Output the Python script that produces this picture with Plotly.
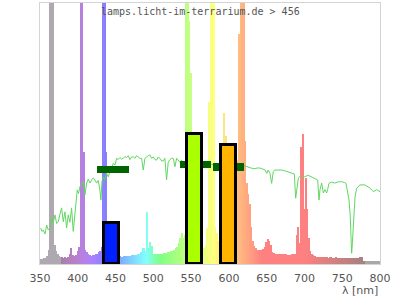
import plotly.graph_objects as go

# ---------------- data ----------------
wavelengths = list(range(350, 801, 2))  # nm, 2 nm bins
spectrum = [
    1.8, 2.0, 1.8, 2.2, 2.4, 3.0, 5.4, 300, 300, 300,          # 350-368
    7.3, 5.0, 4.0, 3.2, 2.8, 2.5, 2.4, 2.6, 2.3, 2.8,          # 370-388
    4.0, 6.0, 3.5, 3.0, 3.5, 5.0, 6.6, 300, 300, 43,           # 390-408
    5.5, 4.6, 4.0, 3.5, 3.2, 3.3, 3.5, 3.8, 4.0, 4.5,          # 410-428
    5.0, 6.6, 300, 300, 43, 10, 6.0, 4.5, 4.0, 3.5,            # 430-448
    3.4, 3.2, 3.1, 3.0, 2.8, 2.8, 2.9, 3.0, 3.0, 3.1,          # 450-468
    3.2, 3.3, 3.4, 3.5, 3.6, 3.8, 4.0, 4.5, 6.0, 6.2,          # 470-488
    5.0, 20, 6.0, 8.5, 7.0, 3.8, 3.8, 3.8, 3.8, 3.9,           # 490-508
    4.0, 4.0, 4.1, 4.2, 4.3, 4.5, 4.6, 4.8, 5.0, 5.5,          # 510-528
    6.0, 6.5, 8.0, 10, 11.8, 9.8, 11, 300, 300, 93,            # 530-548
    73, 20, 12, 10, 9, 8, 7, 6.5, 6.0, 6.0,                    # 550-568
    7.0, 13.7, 62, 300, 300, 300, 14, 12, 9, 8.5,              # 570-588
    8, 20, 58, 49, 12, 10, 10, 10, 10, 12,                     # 590-608
    20, 40, 88, 300, 300, 300, 47, 31, 27, 23,                 # 610-628
    14, 9, 7, 6, 5.4, 5.4, 5.2, 5.3, 5.6, 6.5,                 # 630-648
    8.5, 9.5, 9.0, 7.3, 4.7, 4.2, 4.0, 3.9, 3.8, 3.8,          # 650-668
    3.8, 3.7, 3.8, 3.7, 3.6, 3.6, 3.6, 3.7, 3.8, 4.0,          # 670-688
    11, 14.3, 8, 45, 50, 21, 33, 21, 10, 5,                    # 690-708
    4, 3.5, 3.0, 2.8, 2.7, 2.6, 2.6, 2.5, 2.5, 2.5,            # 710-728
    2.5, 2.4, 2.5, 2.5, 2.4, 2.4, 2.5, 2.4, 2.4, 2.4,          # 730-748
    2.4, 2.4, 2.3, 2.3, 2.4, 2.3, 2.3, 2.3, 2.3, 2.3,          # 750-768
    2.3, 2.3, 2.8, 2.8, 1.2, 1.1, 1.1, 1.1, 1.1, 1.1,          # 770-788
    1.1, 1.1, 1.1, 1.1, 1.1, 1.1,                              # 790-800
]

sun_nm = [350.9, 352.5, 354.4, 356.6, 358.8, 361, 363.2, 365.4, 367.6, 369.8,
          372, 374.2, 376.4, 378.6, 380.8, 383, 385.2, 387.4, 389.6, 391.8,
          394, 396.3, 399.3, 401, 402.9, 405.1, 407.3, 409.5, 411.7, 413.9,
          416, 418.3, 420.5, 422.7, 424.9, 427.1, 429.3, 430.6, 432, 433.7,
          435.9, 438.1, 440.4, 442.5, 444.8, 447, 449.2, 451.4, 453.5, 455.8,
          458, 460.2, 462.4, 464.6, 466.8, 469, 471.2, 473.4, 475.6, 477.8,
          480, 482.2, 484.5, 486.7, 488.9, 491.1, 493.3, 495.5, 497.7, 499.9,
          502.1, 504.3, 506.5, 508.7, 510.9, 513.1, 515.3, 517.5, 519.7, 522,
          524.2, 526.4, 528.6, 530.8, 533, 535.2, 537.4, 539.6, 545, 555,
          565, 568, 571, 574, 577, 580, 585, 590, 600, 610,
          614, 618, 622, 626, 630, 634, 638, 642, 645, 648,
          650, 652, 654.4, 656.6, 658.8, 661, 665, 670, 674, 679,
          683, 686.6, 688.4, 690.6, 692, 695, 700, 705, 710, 715,
          717.5, 719.3, 720.6, 722.8, 725, 727.2, 729.4, 730.7, 732.5, 736,
          740, 745, 750, 753, 755, 759, 760.7, 761.6, 762.5, 763.4,
          764.3, 765.2, 767, 769.2, 773.5, 780, 786.8, 791.2, 795.6, 800]
sun_val = [13.8, 12.5, 13.0, 11.5, 14.9, 13.0, 13.8, 17.6, 16.0, 18.8,
           15.5, 16.2, 19.0, 21.5, 16.2, 20.0, 13.8, 18.8, 16.0, 21.5,
           12.5, 19.5, 28.4, 27.0, 29.6, 30.5, 31.5, 26.5, 31.0, 32.5,
           31.0, 32.2, 33.0, 32.2, 31.0, 32.0, 28.4, 24.5, 31.5, 33.4,
           32.2, 34.8, 33.4, 35.5, 36.7, 38.6, 38.0, 40.5, 40.0, 40.8,
           40.2, 40.5, 41.2, 40.8, 41.5, 40.0, 41.0, 41.1, 40.5, 41.5,
           41.0, 40.5, 40.5, 36.0, 40.5, 41.1, 41.5, 41.8, 40.5, 41.0,
           40.0, 39.8, 41.0, 40.5, 39.5, 39.5, 40.5, 32.2, 39.0, 40.0,
           40.5, 40.5, 37.3, 40.5, 39.5, 39.0, 39.8, 38.5, 39.0, 39.0,
           38.5, 38.0, 38.6, 37.5, 38.2, 38.0, 38.5, 38.0, 37.5, 36.8,
           37.0, 37.9, 37.5, 37.0, 36.7, 36.5, 36.8, 36.7, 36.5, 36.0,
           34.7, 36.0, 34.7, 30.9, 35.5, 36.0, 36.0, 36.0, 35.7, 35.2,
           34.7, 34.5, 25.2, 31.5, 33.0, 33.8, 33.4, 34.0, 33.4, 32.8,
           32.2, 24.5, 28.5, 31.0, 27.2, 28.5, 27.2, 28.5, 30.9, 31.4,
           31.0, 31.5, 31.5, 31.2, 30.9, 24.5, 18.1, 10.5, 4.1, 7.9,
           13.0, 18.1, 25.8, 29.1, 30.3, 30.3, 29.1, 27.7, 28.5, 27.7]

band_lo = [435, 545, 590]
band_hi = [455, 565, 610]
band_val = [15.9, 49.9, 45.7]
band_colors = ["#0020ff", "#aaff00", "#ffb400"]

ref_lo = [425, 535, 579]
ref_hi = [468, 576, 620]
ref_val = [36.1, 38.2, 37.2]
ref_thickness = 2.8

x_ticks = [350, 400, 450, 500, 550, 600, 650, 700, 750, 800]
title_text = "lamps.licht-im-terrarium.de > 456"
x_label = "λ [nm]"


# ---------------- styling helpers ----------------
def wl_color(w):
    if w < 380:
        return "rgb(174,168,176)"
    if w > 780:
        return "rgb(168,168,168)"
    if w < 440:
        r, g, b = -(w - 440) / 60, 0.0, 1.0
    elif w < 490:
        r, g, b = 0.0, (w - 440) / 50, 1.0
    elif w < 510:
        r, g, b = 0.0, 1.0, -(w - 510) / 20
    elif w < 580:
        r, g, b = (w - 510) / 70, 1.0, 0.0
    elif w < 645:
        r, g, b = 1.0, -(w - 645) / 65, 0.0
    else:
        r, g, b = 1.0, 0.0, 0.0
    if w < 420:
        f = 0.3 + 0.7 * (w - 380) / 40
    elif w > 700:
        f = 0.3 + 0.7 * (780 - w) / 80
    else:
        f = 1.0
    c = [int(round(127.5 + 127.5 * v * f)) for v in (r, g, b)]
    return "rgb(%d,%d,%d)" % tuple(c)


fig = go.Figure()

fig.add_trace(go.Bar(
    x=wavelengths, y=spectrum, width=2,
    marker=dict(color=[wl_color(w) for w in wavelengths], line=dict(width=0)),
    hoverinfo="skip", showlegend=False,
))

fig.add_trace(go.Scatter(
    x=sun_nm, y=sun_val, mode="lines",
    line=dict(color="#5fd85f", width=1),
    hoverinfo="skip", showlegend=False,
))

# reference markers (behind the band bars) on overlay axes
fig.add_trace(go.Bar(
    x=[(a + b) / 2 for a, b in zip(ref_lo, ref_hi)],
    width=[b - a for a, b in zip(ref_lo, ref_hi)],
    y=[ref_thickness] * len(ref_val),
    base=[v - ref_thickness / 2 for v in ref_val],
    marker=dict(color="#006400", line=dict(width=0)),
    xaxis="x2", yaxis="y2", hoverinfo="skip", showlegend=False,
))

fig.add_trace(go.Bar(
    x=[(a + b) / 2 for a, b in zip(band_lo, band_hi)],
    width=[b - a for a, b in zip(band_lo, band_hi)],
    y=band_val,
    marker=dict(color=band_colors, line=dict(color="black", width=3)),
    xaxis="x2", yaxis="y2", hoverinfo="skip", showlegend=False,
))

axis_line = "#d4d4d4"
fig.update_layout(
    width=400, height=300,
    margin=dict(l=40, r=20, t=3, b=36),
    paper_bgcolor="white", plot_bgcolor="white",
    barmode="overlay", bargap=0,
    xaxis=dict(range=[350, 800], tickvals=x_ticks, showgrid=False, zeroline=False,
               showline=True, mirror=True, linecolor=axis_line, linewidth=1,
               ticks="outside", ticklen=4, tickcolor="rgba(0,0,0,0)",
               tickfont=dict(family="DejaVu Sans", size=11, color="#555555")),
    yaxis=dict(range=[0, 100], showgrid=False, zeroline=False, showticklabels=False,
               showline=True, mirror=True, linecolor=axis_line, linewidth=1, ticks=""),
    xaxis2=dict(range=[350, 800], overlaying="x", visible=False, anchor="y2"),
    yaxis2=dict(range=[0, 100], overlaying="y", visible=False, anchor="x2"),
    annotations=[
        dict(text=title_text, xref="paper", yref="paper", x=(200 - 40) / 340, y=(264 - 11) / 261,
             xanchor="center", yanchor="middle", showarrow=False,
             font=dict(family="DejaVu Sans Mono", size=10, color="#555555")),
        dict(text=x_label, xref="paper", yref="paper", x=1.0, y=(264 - 299) / 261,
             xanchor="right", yanchor="bottom", showarrow=False,
             font=dict(family="DejaVu Sans", size=11, color="#555555")),
    ],
)

fig.write_html("out.html")
